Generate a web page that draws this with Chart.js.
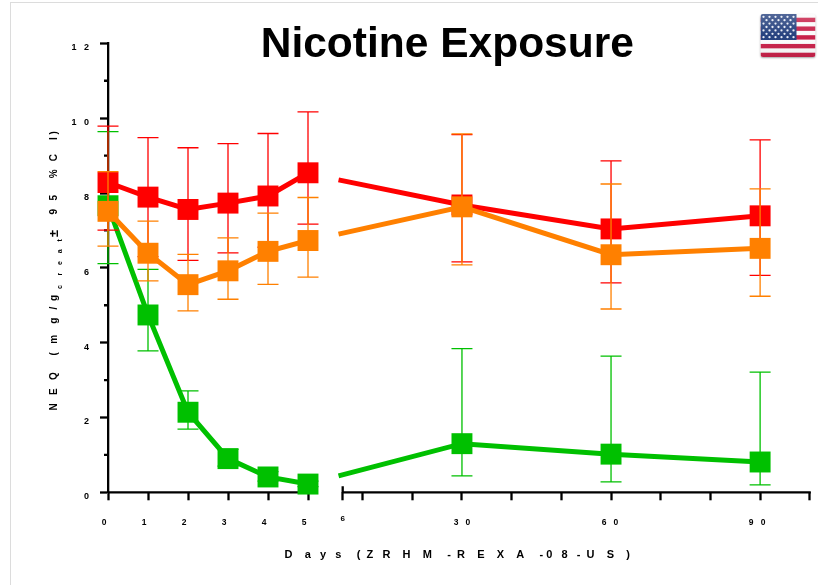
<!DOCTYPE html>
<html>
<head>
<meta charset="utf-8">
<style>
html,body{margin:0;padding:0;background:#fff;width:818px;height:585px;overflow:hidden}
#frame{position:absolute;left:9.5px;top:2px;width:809px;height:583px;border-left:1.5px solid #dcdcdc;border-top:1.5px solid #dcdcdc;box-sizing:border-box}
canvas{position:absolute;left:0;top:0}
</style>
<script src="https://cdn.jsdelivr.net/npm/chart.js@4"></script>
</head>
<body>
<div id="frame"></div>
<canvas id="c" width="818" height="585"></canvas>
<script>
const STUB_DAY = 5.88;
const days = [0, 1, 2, 3, 4, 5, 5.5, STUB_DAY, 30, 60, 90];

const redMean  = [8.28, 7.89, 7.56, 7.73, 7.92, 8.54, null, 8.35, 7.68, 7.04, 7.39];
const redHigh  = [9.79, 9.48, 9.21, 9.32, 9.59, 10.17, null, null, 9.56, 8.86, 9.42];
const redLow   = [7.01, 6.30, 6.20, 6.40, 6.55, 7.17, null, null, 6.16, 5.60, 5.80];

const orangeMean = [7.51, 6.39, 5.55, 5.92, 6.44, 6.73, null, 6.90, 7.63, 6.35, 6.52];
const orangeHigh = [8.57, 7.25, 6.36, 6.80, 7.46, 7.88, null, null, 9.58, 8.24, 8.11];
const orangeLow  = [6.58, 5.65, 4.85, 5.16, 5.56, 5.75, null, null, 6.08, 4.90, 5.24];

const greenMean = [7.66, 4.74, 2.14, 0.90, 0.41, 0.22, null, 0.44, 1.30, 1.02, 0.81];
const greenHigh = [9.64, 5.96, 2.71, 1.15, 0.55, 0.30, null, null, 3.84, 3.64, 3.21];
const greenLow  = [6.11, 3.78, 1.69, 0.70, 0.30, 0.15, null, null, 0.44, 0.28, 0.20];

const xTickValues = [0, 1, 2, 3, 4, 5, 6, 10, 20, 30, 40, 50, 60, 70, 80, 90, 100];
const xTickLabels = {0:'0', 1:'1', 2:'2', 3:'3', 4:'4', 5:'5', 6:'6', 30:'3   0', 60:'6   0', 90:'9   0'};
const yTickLabels = {0:'0', 2:'2', 4:'4', 6:'6', 8:'8', 10:'1   0', 12:'1   2'};
const yMinorTicks = [1, 3, 5, 7, 9, 11];

const chartTitle = 'Nicotine Exposure';
const xTitle = 'D    a   y   s     (  Z   R    H    M     -  R    E    X    A     - 0   8   -  U    S    ) ';
const yTitleMain = 'N   E   Q      (   m    g   /  g';
const yTitleSub = 'c     r    e    a    t';
const yTitlePlusMinus = '±';
const yTitleEnd = '9   5      %   C     I )';

const RED = '#FF0000', ORANGE = '#FF8000', GREEN = '#00C000';

/* x axis with a break between day 5 and day 6 */
class BrokenAxis extends Chart.LinearScale {
  static id = 'broken';
  static defaults = Chart.LinearScale.defaults;
  buildTicks() { return xTickValues.map(value => ({value})); }
  getPixelForValue(v) {
    const s = this.width / 701.6;
    let off;
    if (v <= 5) off = v * 40;
    else if (v <= 6) off = 200 + (v - 5) * 34.7;
    else off = 234.7 + (v - 6) * 4.9692;
    return this.left + off * s;
  }
  _computeLabelItems(area) {
    const items = super._computeLabelItems(area);
    items.forEach((it, i) => {
      const v = this.ticks[i].value;
      const t = it.options.translation;
      if (v <= 5) t[0] -= 4;
      if (v === 6) t[1] -= 3;
      if (v === 60) t[0] -= 1;
      if (v === 90) t[0] -= 3;
    });
    return items;
  }
}
/* y axis whose tick labels may sit left of its narrow box */
class OpenLabelAxis extends Chart.LinearScale {
  static id = 'openLabel';
  static defaults = Chart.LinearScale.defaults;
  _computeLabelArea() { return undefined; }
}
Chart.register(BrokenAxis, OpenLabelAxis);

const errorBars = {
  Red: {high: redHigh, low: redLow, color: RED},
  Orange: {high: orangeHigh, low: orangeLow, color: ORANGE},
  Green: {high: greenHigh, low: greenLow, color: GREEN}
};

const errorBarPlugin = {
  id: 'errorBars',
  afterDatasetDraw(chart, args) {
    const ds = chart.data.datasets[args.index];
    const e = errorBars[ds.label];
    const {x, y} = chart.scales;
    const ctx = chart.ctx;
    ctx.save();
    ctx.strokeStyle = e.color;
    ctx.lineWidth = 1.3;
    ctx.beginPath();
    days.forEach((d, i) => {
      if (e.high[i] === null) return;
      const px = x.getPixelForValue(d);
      const hi = y.getPixelForValue(e.high[i]);
      const lo = y.getPixelForValue(e.low[i]);
      ctx.moveTo(px, hi); ctx.lineTo(px, lo);
      ctx.moveTo(px - 10.5, hi); ctx.lineTo(px + 10.5, hi);
      ctx.moveTo(px - 10.5, lo); ctx.lineTo(px + 10.5, lo);
    });
    ctx.stroke();
    ctx.restore();
  }
};

const axisPlugin = {
  id: 'brokenAxisLines',
  beforeDatasetsDraw(chart) {
    const {x, y} = chart.scales;
    const ctx = chart.ctx;
    const py = y.getPixelForValue(0);
    ctx.save();
    ctx.strokeStyle = '#000';
    ctx.lineWidth = 2.3;
    ctx.beginPath();
    ctx.moveTo(x.getPixelForValue(0), py); ctx.lineTo(x.getPixelForValue(5), py);
    ctx.moveTo(x.getPixelForValue(6), py); ctx.lineTo(x.getPixelForValue(100) + 1, py);
    ctx.moveTo(x.getPixelForValue(6), py - 6); ctx.lineTo(x.getPixelForValue(6), py);
    const ax = y.right;
    yMinorTicks.forEach(v => {
      const p = y.getPixelForValue(v);
      ctx.moveTo(ax - 4, p); ctx.lineTo(ax, p);
    });
    ctx.stroke();
    ctx.restore();
  }
};

const yTitlePlugin = {
  id: 'yTitlePieces',
  afterDraw(chart) {
    const ctx = chart.ctx;
    const piece = (text, px, py, font) => {
      ctx.save();
      ctx.translate(px, py);
      ctx.rotate(-Math.PI / 2);
      ctx.font = font;
      ctx.fillStyle = '#000';
      ctx.textAlign = 'left';
      ctx.textBaseline = 'middle';
      ctx.fillText(text, 0, 0);
      ctx.restore();
    };
    const main = 'bold 10px "Liberation Sans"';
    piece(yTitleMain, 54, 410.5, main);
    piece(yTitleSub, 60, 289, 'bold 7px "Liberation Sans"');
    piece(yTitlePlusMinus, 54, 237, 'bold 13px "Liberation Sans"');
    piece(yTitleEnd, 54, 214.5, main);
  }
};

const flagPlugin = {
  id: 'flag',
  afterDraw(chart) {
    const ctx = chart.ctx;
    const fx = 760.5, fy = 14, fw = 55, fh = 43;
    ctx.save();
    ctx.shadowColor = 'rgba(0,0,0,0.35)';
    ctx.shadowBlur = 2;
    ctx.shadowOffsetY = 1;
    ctx.fillStyle = '#fff';
    ctx.beginPath(); ctx.roundRect(fx, fy, fw, fh, 2.5); ctx.fill();
    ctx.restore();
    ctx.save();
    ctx.beginPath(); ctx.roundRect(fx, fy, fw, fh, 2.5); ctx.clip();
    ctx.fillStyle = '#fbfbfb';
    ctx.fillRect(fx, fy, fw, fh);
    ctx.fillStyle = '#c8224a';
    for (let i = 0; i < 5; i++) ctx.fillRect(fx, 17.7 + i * 8.75, fw, 4.4);
    ctx.fillStyle = '#27427f';
    ctx.fillRect(fx, fy, 36, 26);
    ctx.fillStyle = '#e8ecf5';
    for (let r = 0; r < 7; r++) {
      const n = r % 2 === 0 ? 6 : 5;
      const off = r % 2 === 0 ? 3 : 6;
      for (let k = 0; k < n; k++) {
        ctx.beginPath();
        ctx.arc(fx + off + k * 6, fy + 2.8 + r * 3.4, 1.15, 0, Math.PI * 2);
        ctx.fill();
      }
    }
    const g = ctx.createLinearGradient(0, fy, 0, fy + fh);
    g.addColorStop(0, 'rgba(255,255,255,0.2)');
    g.addColorStop(0.5, 'rgba(255,255,255,0)');
    g.addColorStop(1, 'rgba(0,0,0,0.06)');
    ctx.fillStyle = g;
    ctx.fillRect(fx, fy, fw, fh);
    ctx.restore();
  }
};

const series = (label, means, color, order) => ({
  label,
  data: days.map((d, i) => ({x: d, y: means[i]})),
  borderColor: color,
  backgroundColor: color,
  borderWidth: 5,
  pointStyle: 'rect',
  pointBackgroundColor: color,
  pointBorderColor: color,
  pointBorderWidth: 0,
  pointRadius: c => (c.raw && c.raw.x === STUB_DAY ? 0 : 14.8),
  spanGaps: false,
  tension: 0,
  clip: false,
  order
});

new Chart(document.getElementById('c'), {
  type: 'line',
  data: {
    datasets: [
      series('Orange', orangeMean, ORANGE, 1),
      series('Red', redMean, RED, 2),
      series('Green', greenMean, GREEN, 3)
    ]
  },
  options: {
    responsive: false,
    animation: false,
    devicePixelRatio: 1,
    layout: {autoPadding: false, padding: {left: 85, right: 8.4, top: 40.8, bottom: 0}},
    plugins: {
      legend: {display: false},
      tooltip: {enabled: false},
      title: {
        display: true,
        text: chartTitle,
        color: '#000',
        padding: {top: 3, bottom: -3},
        font: {family: '"Liberation Sans"', size: 42.5, weight: 'bold', lineHeight: 0.06}
      }
    },
    scales: {
      x: {
        type: 'broken',
        min: 0,
        max: 100,
        border: {display: false},
        grid: {drawOnChartArea: false, drawTicks: true, tickLength: 8, tickWidth: 2.3, tickColor: '#000'},
        ticks: {
          autoSkip: false,
          maxRotation: 0,
          minRotation: 0,
          padding: 17,
          color: '#000',
          font: c => ({family: '"Liberation Sans"', weight: 'bold', size: c.tick && c.tick.value === 6 ? 8 : 8.5}),
          callback: v => xTickLabels[v] || ''
        },
        title: {
          display: true,
          text: xTitle,
          color: '#000',
          align: 'center',
          padding: {top: 0, bottom: 23.4},
          font: {family: '"Liberation Sans"', weight: 'bold', size: 11, lineHeight: 1.2}
        },
        afterFit: s => { s.height = 92.7; s.paddingLeft = 0; s.paddingRight = 0; }
      },
      y: {
        type: 'openLabel',
        min: 0,
        max: 12,
        border: {display: true, color: '#000', width: 2.3},
        grid: {drawOnChartArea: false, drawTicks: true, tickLength: 8, tickWidth: 2.3, tickColor: '#000'},
        ticks: {
          stepSize: 2,
          padding: 11,
          labelOffset: 4.5,
          color: '#000',
          font: {family: '"Liberation Sans"', weight: 'bold', size: 9},
          callback: v => yTickLabels[v]
        },
        afterFit: s => { s.width = 23; s.paddingTop = 0; s.paddingBottom = 0; }
      }
    }
  },
  plugins: [axisPlugin, errorBarPlugin, yTitlePlugin, flagPlugin]
});
</script>
</body>
</html>
